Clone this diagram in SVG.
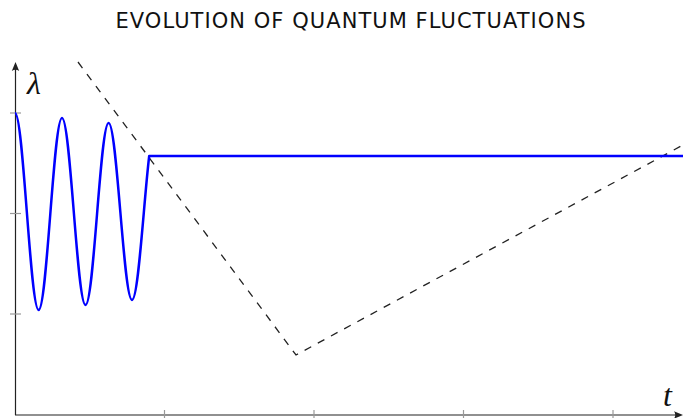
<svg xmlns="http://www.w3.org/2000/svg" width="683" height="418" viewBox="0 0 683 418">
<style>
.title{font-family:"DejaVu Sans","Liberation Sans",sans-serif;font-size:21px;fill:#111}
.lbl{font-family:"Liberation Serif","DejaVu Serif",serif;font-style:italic;fill:#111}
.axis{stroke:#222;stroke-width:1.2;fill:none}
.tick{stroke:#999;stroke-width:1.2}
.wave{stroke:#0000ff;stroke-width:2.5;fill:none;stroke-linejoin:round}
.dash{stroke:#222;stroke-width:1.3;fill:none;stroke-dasharray:7.5 7.5}
</style>
<rect width="683" height="418" fill="#fff"/>
<text class="title" x="115.5" y="28" textLength="470" lengthAdjust="spacing">EVOLUTION OF QUANTUM FLUCTUATIONS</text>
<g id="axes">
<line class="axis" x1="15.5" y1="415" x2="15.5" y2="66"/>
<path d="M15.5,62 L11.8,71 Q15.5,68.5 19.2,71 Z" fill="#222"/>
<line class="axis" x1="15" y1="415" x2="679" y2="415"/>
<path d="M683,415 L674,411.3 Q676.5,415 674,418.7 Z" fill="#222"/>
</g>
<g id="ticks">
<line class="tick" x1="10" y1="113" x2="21" y2="113"/>
<line class="tick" x1="10" y1="213.5" x2="21" y2="213.5"/>
<line class="tick" x1="10" y1="314" x2="21" y2="314"/>
<line class="tick" x1="164.5" y1="410" x2="164.5" y2="419"/>
<line class="tick" x1="314" y1="410" x2="314" y2="419"/>
<line class="tick" x1="463.5" y1="410" x2="463.5" y2="419"/>
<line class="tick" x1="613" y1="410" x2="613" y2="419"/>
</g>
<g id="labels">
<text class="lbl" x="27" y="94" font-size="32">λ</text>
<text class="lbl" x="663" y="406" font-size="32">t</text>
</g>
<g id="connectors">
<path class="dash" d="M78,62 L296,355 L683,145"/>
</g>
<g id="wave">
<path class="wave" d="M15,113 C23.5,113 30.1,310 38.6,310 C47.1,310 53.5,118 62,118 C70.5,118 77,305 85.5,305 C94,305 100.1,123 108.6,123 C117.1,123 123.5,300 132,300 C138.4,300 143.6,203 149.2,156 L683,156"/>
</g>
</svg>
